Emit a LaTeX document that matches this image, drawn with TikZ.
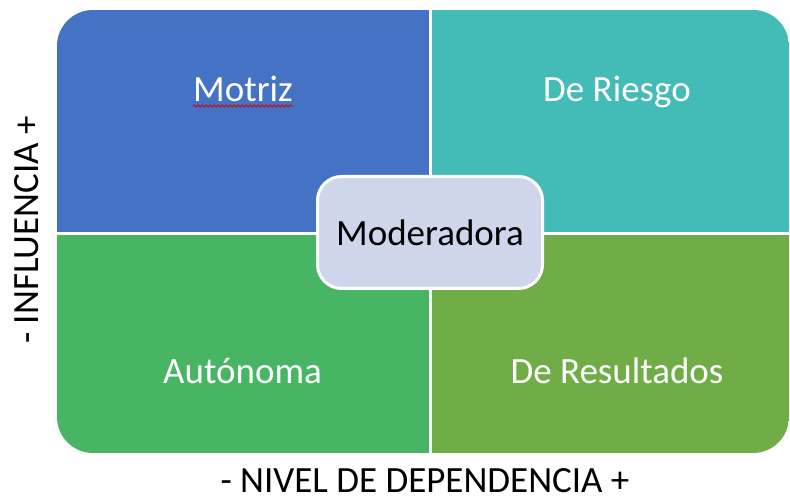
\documentclass[tikz,border=0pt]{standalone}
\usepackage{fontspec}
\setmainfont{Carlito}
\usepackage{tikz}
\usetikzlibrary{decorations.pathmorphing}
\definecolor{motrizblue}{HTML}{4472C4}
\definecolor{riesgoteal}{HTML}{43BCB7}
\definecolor{autogreen}{HTML}{47B563}
\definecolor{resultgreen}{HTML}{70AD47}
\definecolor{moderfill}{HTML}{CFD5EA}
\tikzstyle{quadtext} = [text=white, inner sep=0pt, anchor=base, font=\fontsize{37}{44}\selectfont]
\tikzstyle{axistext} = [text=black, inner sep=0pt, anchor=base, font=\fontsize{37}{44}\selectfont]
\tikzstyle{centerbox} = [rectangle, rounded corners=24pt, draw=white, line width=3pt, fill=moderfill,
  minimum width=225pt, minimum height=112pt, font=\fontsize{37}{44}\selectfont]

\begin{document}
\begin{tikzpicture}[x=1pt,y=1pt]
  \useasboundingbox (0,0) rectangle (790,502);
  % quadrants
  \begin{scope}
    \clip[rounded corners=36pt] (57,49) rectangle (789,492);
    \fill[motrizblue] (57,270) rectangle (428.5,492);
    \fill[riesgoteal] (431.5,270) rectangle (789,492);
    \fill[autogreen] (57,49) rectangle (428.5,267);
    \fill[resultgreen] (431.5,49) rectangle (789,267);
  \end{scope}
  \node[quadtext] (motriz) at (243,400) {Motriz};
  \node[quadtext] (riesgo) at (617,400) {De Riesgo};
  \node[quadtext] (autonoma) at (242.5,118) {Autónoma};
  \node[quadtext] (resultados) at (617,118) {De Resultados};
  \node[centerbox] (moderadora) at (430,269.5) {Moderadora};
  \node[axistext, rotate=90] (influencia) at (38,272) {- INFLUENCIA +};
  \node[axistext] (dependencia) at (425,9) {- NIVEL DE DEPENDENCIA +};
  % spell-check mark
  \draw[red!85!black, line width=0.8pt, decorate, decoration={snake, amplitude=1pt, segment length=4pt}]
    ([yshift=-4pt]motriz.base west) -- ([yshift=-4pt]motriz.base east);
\end{tikzpicture}
\end{document}
